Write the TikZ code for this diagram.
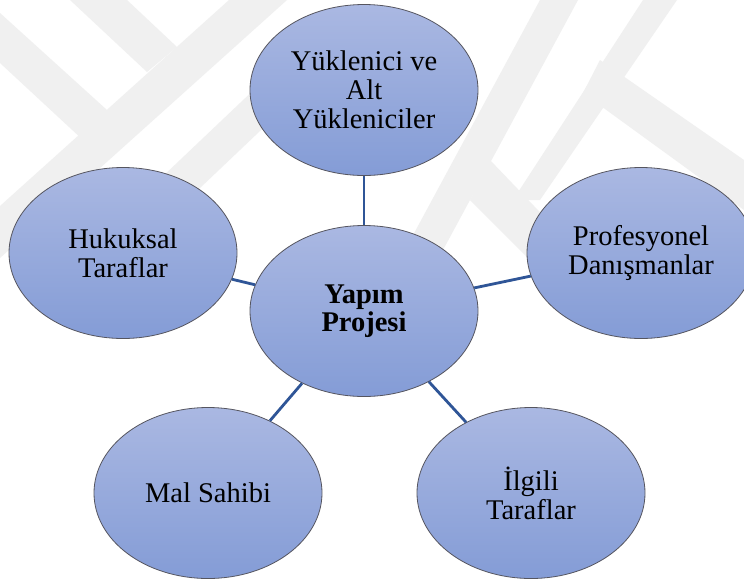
\documentclass[tikz,border=0pt]{standalone}
\usepackage{fontspec}
\setmainfont{Liberation Serif}
\usetikzlibrary{shapes.geometric}

\definecolor{bubtop}{RGB}{170,184,226}
\definecolor{bubbot}{RGB}{132,156,214}
\definecolor{bubedge}{RGB}{85,85,95}
\definecolor{linkblue}{RGB}{47,85,151}
\definecolor{mark}{RGB}{240,240,240}

\tikzset{
  bubble/.style={ellipse, draw=bubedge, line width=0.8pt,
    top color=bubtop, bottom color=bubbot,
    minimum width=228pt, minimum height=171pt, inner sep=0pt,
    align=center, font=\fontsize{28.5}{29}\selectfont},
  hub/.style={bubble, font=\fontsize{28.5}{28.5}\selectfont\bfseries},
  link/.style={draw=linkblue, line width=2.8pt},
  band/.style={fill=mark, draw=none}
}

\begin{document}
\begin{tikzpicture}[x=1pt,y=-1pt]
\useasboundingbox (0,0) rectangle (744,582);
\clip (0,0) rectangle (744,582);
\fill[white] (0,0) rectangle (744,582);

% faint background emblem
\fill[band] (0,206) -- (229,0) -- (287,0) -- (0,258) -- cycle;
\fill[band] (0,13) -- (107,110) -- (83,140) -- (0,63) -- cycle;
\fill[band] (70,0) -- (127,0) -- (177,47) -- (147,72) -- cycle;
\fill[band] (120,217) -- (300,46) -- (300,93) -- (120,264) -- cycle;
\fill[band] (540,0) -- (578,0) -- (416,300) -- (378,300) -- cycle;
\fill[band] (643,0) -- (677,0) -- (540,200) -- (513,200) -- cycle;
\fill[band] (600,60) -- (744,160) -- (744,210) -- (583,93) -- cycle;
\fill[band] (490,160) -- (600,275) -- (570,300) -- (470,200) -- cycle;

% stakeholder bubbles
\node[hub]    (proj) at (364,311) {Yapım\\Projesi};
\node[bubble] (cont) at (364,90)  {Yüklenici ve\\Alt\\Yükleniciler};
\node[bubble] (legal) at (123,253) {Hukuksal\\Taraflar};
\node[bubble] (cons) at (641,253) {Profesyonel\\Danışmanlar};
\node[bubble] (owner) at (208,493) {Mal Sahibi};
\node[bubble] (other) at (531,493) {İlgili\\Taraflar};

% connectors from the hub
\draw[link] (proj) -- (cont);
\draw[link] (proj) -- (legal);
\draw[link] (proj) -- (cons);
\draw[link] (proj) -- (owner);
\draw[link] (proj) -- (other);
\end{tikzpicture}
\end{document}
